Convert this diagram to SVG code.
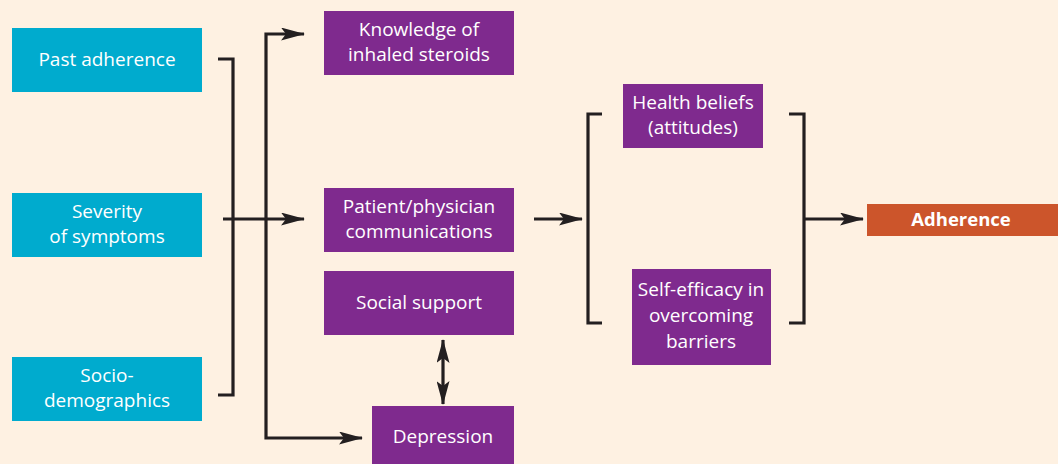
<svg xmlns="http://www.w3.org/2000/svg" width="1058" height="464" viewBox="0 0 1058 464">
<defs>
<style>
.cy{fill:#00ABCE}
.pu{fill:#7F2A8E}
.or{fill:#CC552B}
.t{font-family:"Open Sans","Liberation Sans",sans-serif;font-size:19px;fill:#ffffff;text-anchor:middle}
.tb{font-family:"Open Sans","Liberation Sans",sans-serif;font-size:18.5px;font-weight:bold;fill:#ffffff;text-anchor:middle}
.ln{fill:none;stroke:#231F20;stroke-width:3.2}
</style>
<marker id="ah" viewBox="0 0 24 13" refX="23" refY="6.5" markerWidth="24" markerHeight="13" markerUnits="userSpaceOnUse" orient="auto-start-reverse">
<path d="M0,0 L24,6.5 L0,13 L5,6.5 Z" fill="#231F20"/>
</marker>
</defs>
<rect width="1058" height="464" fill="#FEF1E2"/>
<g id="past-adherence"><rect class="cy" x="12" y="28" width="190" height="64"/><text class="t" x="107" y="66">Past adherence</text></g>
<g id="severity"><rect class="cy" x="12" y="193" width="190" height="64"/><text class="t" x="107" y="218">Severity</text><text class="t" x="107" y="243">of symptoms</text></g>
<g id="socio"><rect class="cy" x="12" y="357" width="190" height="64"/><text class="t" x="107" y="382">Socio-</text><text class="t" x="107" y="407">demographics</text></g>
<g id="knowledge"><rect class="pu" x="324" y="11" width="190" height="64"/><text class="t" x="419" y="36">Knowledge of</text><text class="t" x="419" y="61">inhaled steroids</text></g>
<g id="communication"><rect class="pu" x="324" y="188" width="190" height="64"/><text class="t" x="419" y="213">Patient/physician</text><text class="t" x="419" y="238">communications</text></g>
<g id="social-support"><rect class="pu" x="324" y="271" width="190" height="64"/><text class="t" x="419" y="309">Social support</text></g>
<g id="depression"><rect class="pu" x="372" y="406" width="142" height="58"/><text class="t" x="443" y="443">Depression</text></g>
<g id="health-beliefs"><rect class="pu" x="623" y="84" width="140" height="64"/><text class="t" x="693" y="109">Health beliefs</text><text class="t" x="693" y="134">(attitudes)</text></g>
<g id="self-efficacy"><rect class="pu" x="632" y="269" width="139" height="96"/><text class="t" x="701" y="296">Self-efficacy in</text><text class="t" x="701" y="322">overcoming</text><text class="t" x="701" y="348">barriers</text></g>
<g id="adherence"><rect class="or" x="867" y="204" width="191" height="32"/><text class="tb" x="961" y="226">Adherence</text></g>
<g id="connectors">
<path class="ln" d="M218,59 H233 V395 H218"/>
<path class="ln" d="M223,219 H304" marker-end="url(#ah)"/>
<path class="ln" d="M304,34 H266 V438 H362" marker-start="url(#ah)" marker-end="url(#ah)"/>
<path class="ln" d="M443,340 V404" marker-start="url(#ah)" marker-end="url(#ah)"/>
<path class="ln" d="M602,114 H588 V323 H602"/>
<path class="ln" d="M534,219 H582" marker-end="url(#ah)"/>
<path class="ln" d="M789,114 H804 V323 H789"/>
<path class="ln" d="M804,219 H863" marker-end="url(#ah)"/>
</g>
</svg>
